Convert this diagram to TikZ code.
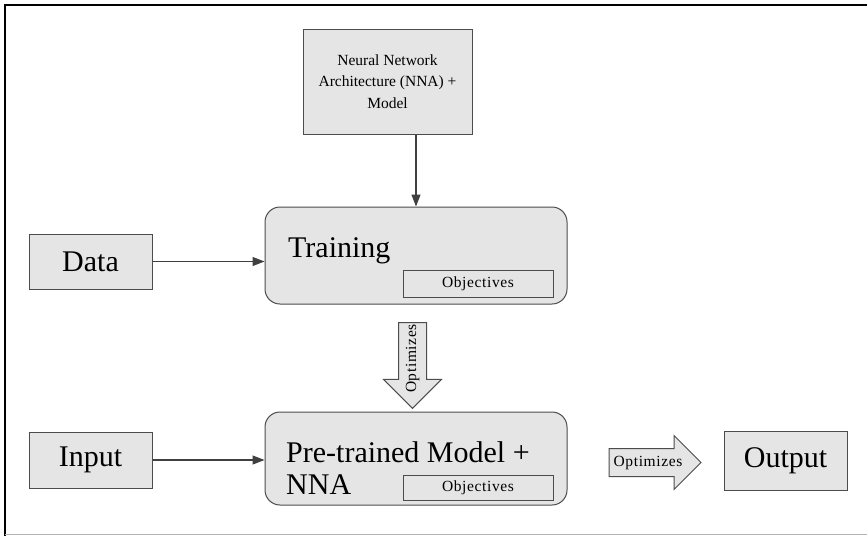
\documentclass[tikz,border=0pt]{standalone}
\usepackage{fontspec}
\setmainfont{Liberation Serif}
\usepackage{tikz}
\usetikzlibrary{shapes,arrows,positioning,calc,arrows.meta}

\begin{document}
\begin{tikzpicture}[x=1pt, y=-1pt,
    box/.style={draw=black!70, fill=black!10, line width=1pt, inner sep=0pt},
    bigtext/.style={font=\fontsize{30}{32}\selectfont},
    smalltext/.style={font=\fontsize{15.5}{17}\selectfont\addfontfeature{LetterSpace=4}},
    flow/.style={draw=black!75, line width=1.2pt, -{Triangle[length=12pt,width=9pt]}},
    bigarrow/.style={single arrow, draw=black!70, fill=black!10, line width=1pt,
        single arrow head indent=0pt, inner xsep=1pt, inner ysep=7pt,
        text height=10pt, text depth=3pt, smalltext}]
    \useasboundingbox (0,0) rectangle (867,536);
    % frame
    \draw[line width=2.5pt] (5,536) -- (5,5) -- (867,5);
    \draw[black!30, line width=1pt] (5,534.5) -- (867,534.5);

    % top row
    \node[box, minimum width=169pt, minimum height=105pt, align=center,
        font=\fontsize{15.5}{21.5}\selectfont] (nna) at (387.5,81.5)
        {Neural Network\\Architecture (NNA) +\\Model};
    \node[box, rounded corners=15pt, minimum width=302pt, minimum height=97pt] (train) at (416,255.5) {};
    \node[bigtext, anchor=base west, inner sep=0pt] (traintxt) at (288,257) {Training};
    \node[box, minimum width=150pt, minimum height=27pt, smalltext] (trainobj) at (478,283.5) {Objectives};
    \node[box, minimum width=123pt, minimum height=55pt, bigtext] (data) at (90.5,261.5) {Data};

    \draw[flow] (nna.south -| train.north) -- (train.north);
    \draw[flow] (data.east) -- (data.east -| train.west);

    % optimizes (down)
    \node[bigarrow, rotate=90, shape border rotate=180, minimum height=83pt,
        single arrow head extend=15pt] (optdown) at (412.5,358.5) {Optimizes};

    % bottom row
    \node[box, rounded corners=15pt, minimum width=302pt, minimum height=93pt] (pre) at (416,458.5) {};
    \node[bigtext, anchor=base west, inner sep=0pt] (pretxt) at (286,462) {Pre-trained Model +};
    \node[bigtext, anchor=base west, inner sep=0pt] (pretxtb) at (286,494) {NNA};
    \node[box, minimum width=150pt, minimum height=25pt, smalltext] (preobj) at (478,488) {Objectives};
    \node[box, minimum width=123pt, minimum height=56pt, bigtext] (input) at (90.5,460) {Input};
    \node[box, minimum width=123pt, minimum height=59pt, bigtext] (output) at (785.5,460.5) {Output};

    \draw[flow] (input.east) -- (input.east -| pre.west);

    % optimizes (right)
    \node[bigarrow, minimum height=92pt, single arrow head extend=13pt] (optright) at (648,462.5) {Optimizes};
\end{tikzpicture}
\end{document}
